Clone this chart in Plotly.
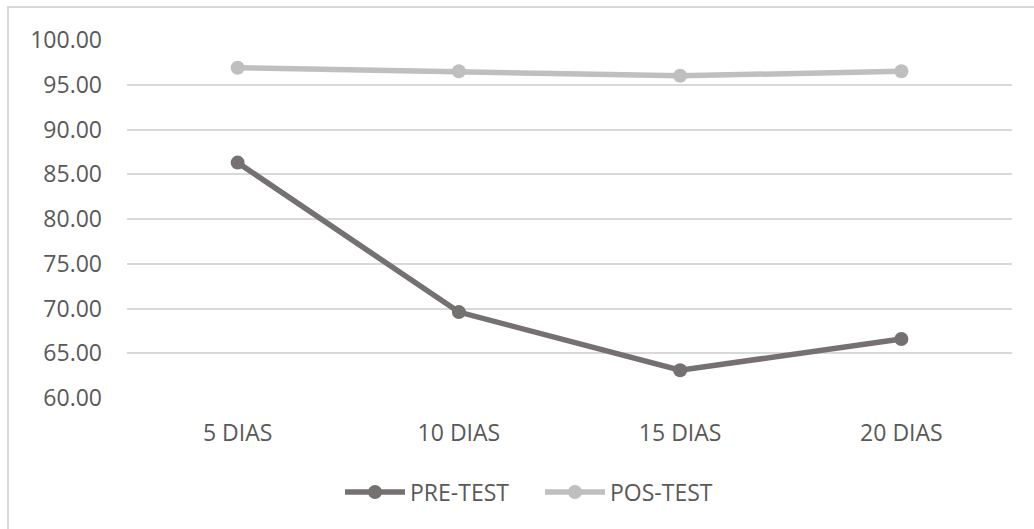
import plotly.graph_objects as go

categories = ["5 DIAS", "10 DIAS", "15 DIAS", "20 DIAS"]
pre_test = [86.3, 69.6, 63.1, 66.6]
pos_test = [96.9, 96.5, 96.0, 96.5]
y_ticks = [60, 65, 70, 75, 80, 85, 90, 95, 100]

W, H = 1034, 529
L, R, T, B = 127, 22, 40, 131
pw, ph = W - L - R, H - T - B

FONT = "Open Sans"
TXT = "#595959"
FS = 23

fig = go.Figure()
fig.add_trace(go.Scatter(x=categories, y=pre_test, name="PRE-TEST", mode="lines+markers",
                         line=dict(color="#767171", width=5.5),
                         marker=dict(color="#767171", size=14)))
fig.add_trace(go.Scatter(x=categories, y=pos_test, name="POS-TEST", mode="lines+markers",
                         line=dict(color="#BFBFBF", width=5.5),
                         marker=dict(color="#BFBFBF", size=14)))

def px_x(p):
    return (p - L) / pw

def px_y(p):
    return (H - B - p) / ph

fig.add_shape(type="rect", xref="paper", yref="paper",
              x0=px_x(8), x1=px_x(W + 10), y0=px_y(H + 10), y1=px_y(7),
              line=dict(color="#D9D9D9", width=2), fillcolor="rgba(0,0,0,0)", layer="below")

fig.update_layout(
    width=W, height=H,
    margin=dict(l=L, r=R, t=T, b=B, pad=0, autoexpand=False),
    paper_bgcolor="white", plot_bgcolor="white",
    font=dict(family=FONT, size=FS, color=TXT),
    showlegend=True,
    legend=dict(orientation="h", x=px_x(540), xanchor="center", y=px_y(492), yanchor="middle",
                font=dict(family=FONT, size=FS, color=TXT), itemwidth=60, entrywidth=125,
                bgcolor="rgba(0,0,0,0)"),
    xaxis=dict(type="category", range=[-0.5, 3.5], showgrid=False, zeroline=False, showline=False,
               automargin=False,
               ticks="", ticklabelstandoff=19, tickfont=dict(family=FONT, size=FS, color=TXT)),
    yaxis=dict(range=[60, 100], tickvals=y_ticks, tickformat=".2f", automargin=False,
               showgrid=True, gridcolor="#D9D9D9", gridwidth=2, zeroline=False, showline=False,
               ticks="", ticklabelstandoff=24, tickfont=dict(family=FONT, size=FS, color=TXT)),
)

fig.write_html("out.html", config={"displayModeBar": False},
               post_script="document.body.style.margin='0';document.body.style.overflow='hidden';")
